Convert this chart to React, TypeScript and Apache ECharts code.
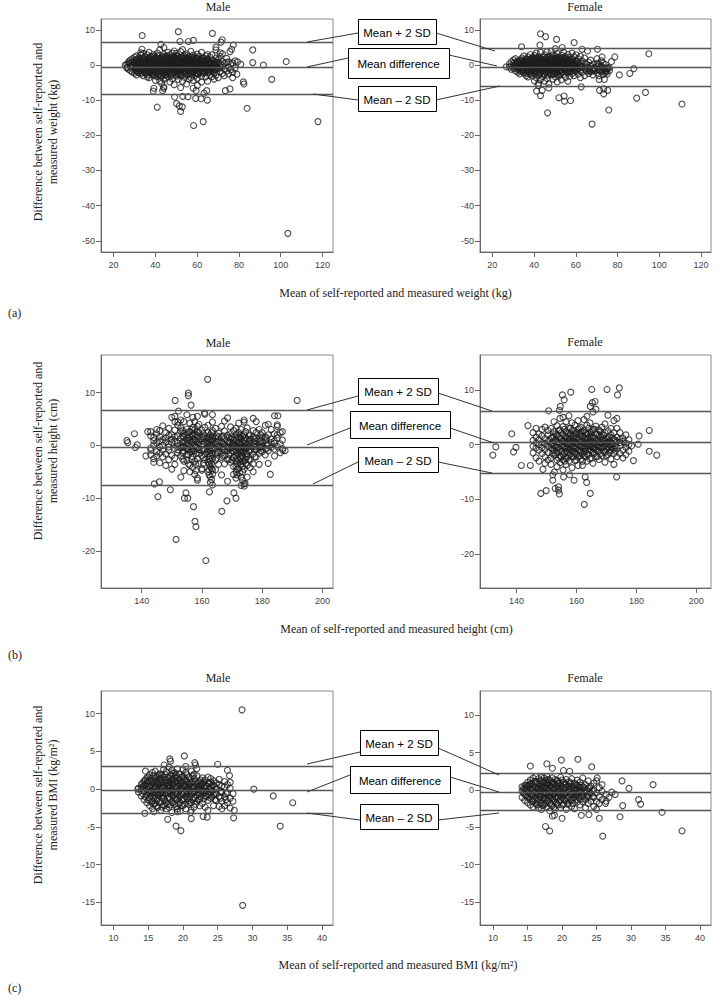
import { useEffect, useRef } from "react";
import * as echarts from "echarts";

type Col = [number, number[]];
type Pt = [number, number];

// ---------- (a) weight ----------
const weightXTicks = [20, 40, 60, 80, 100, 120];
const weightYTicks = [10, 0, -10, -20, -30, -40, -50];
const weightMaleLimits = [6.6, -0.7, -8.3];
const weightFemaleLimits = [4.8, -0.6, -6.0];

const weightMaleCols: Col[] = [
  [26.3, [0.2, -0.8]], [27.2, [0.5, -1.2, 1.0]], [28.1, [-0.3, 1.4, -1.6, 0.6]],
  [29.0, [0.9, -0.5, -2.0, 1.8, 0.1]], [30.1, [-1.1, 0.4, 1.2, -2.3, 2.2]],
  [31.0, [0.0, -1.7, 1.6, -0.6, 2.6, -2.8]], [32.1, [0.7, -1.0, 2.0, -2.1, 1.1, -0.3]],
  [33.0, [-0.8, 1.4, -2.5, 0.3, 2.8, -1.5]], [34.1, [1.9, -0.2, -3.0, 0.9, -1.3, 3.3]],
  [35.0, [-0.6, 1.0, -2.2, 2.4, 0.2, -1.6]], [36.1, [0.5, -1.2, 1.7, -3.4, 2.9, -0.1]],
  [37.0, [-2.0, 0.8, 1.9, -0.7, -3.6, 3.6]], [38.1, [0.3, -1.4, 2.3, -2.6, 1.1, -0.4]],
  [39.0, [-0.9, 1.5, -2.9, 0.6, 3.0, -1.8]], [40.1, [2.1, -0.3, -4.4, 0.9, -1.5, 1.4, -2.6]],
  [41.0, [-0.6, 2.6, -3.3, 0.4, 1.2, -1.9, 3.4]], [42.1, [0.1, -2.4, 1.8, -0.9, 4.3, -4.6, 0.7]],
  [43.0, [-1.3, 2.2, -3.1, 0.5, 1.3, -0.4, -5.2]], [44.1, [1.0, -2.0, 3.0, -0.7, -4.0, 0.3, 5.0, -6.2]],
  [45.0, [-1.0, 0.8, 2.5, -2.8, 1.6, -0.2, -3.7]], [46.1, [0.4, -1.6, 3.6, -3.3, 1.1, -0.6, 2.0]],
  [47.0, [-2.2, 0.9, 1.8, -0.4, -4.8, 2.9, 0.1]], [48.1, [1.3, -1.1, -2.7, 0.6, 3.4, -0.3, -3.9]],
  [49.0, [-0.8, 2.2, 0.0, -2.0, 1.5, -5.6, 4.0]], [50.1, [0.5, -1.4, 2.7, -3.2, 1.0, -0.4, 3.3]],
  [51.0, [-2.5, 0.8, 1.9, -0.9, -4.1, 2.4, 0.2]], [52.1, [1.2, -1.7, -3.0, 0.3, 3.8, -0.5, -6.4]],
  [53.0, [-1.1, 2.0, 0.6, -2.4, 1.4, -4.6, 4.4]], [54.1, [0.1, -1.9, 2.9, -3.5, 1.0, -0.7, 2.1]],
  [55.0, [-2.9, 0.7, 1.6, -1.2, -5.4, 3.2, 0.0]], [56.1, [1.5, -0.6, -2.6, 0.4, 2.4, -1.5, -4.0]],
  [57.0, [-0.3, 2.1, -3.6, 0.9, 1.3, -1.0, 3.9]], [58.1, [0.6, -2.1, 2.8, -0.5, -4.4, 1.7, -6.6]],
  [59.0, [-1.5, 1.0, -3.0, 0.2, 2.3, -0.8]], [60.1, [0.9, -2.5, 1.9, -0.3, -3.8, 3.1, -5.8]],
  [61.0, [-1.2, 0.5, 2.5, -2.0, 1.2, -0.6]], [62.1, [0.2, -3.2, 1.6, -1.0, 3.6, -4.8]],
  [63.0, [-0.5, 1.1, -2.4, 2.0, 0.4, -1.6]], [64.1, [1.4, -1.2, -3.4, 0.7, 2.6, -0.2]],
  [65.0, [-2.0, 0.3, 1.8, -0.9, -4.6, 3.0]], [66.1, [0.8, -1.5, 2.3, -2.8, 0.1]],
  [67.0, [-0.6, 1.4, -3.3, 0.5, 2.9]], [68.1, [0.2, -2.2, 1.1, -1.0, -4.0]],
  [69.0, [-1.4, 0.9, 2.0, -2.9, 0.0]], [70.1, [0.6, -0.9, -3.6, 1.6]],
  [71.0, [-1.8, 0.3, 2.5, -0.5]], [72.1, [1.0, -2.4, -0.2, 3.2]], [73.0, [-1.1, 0.5, -3.0]],
  [74.1, [0.8, -1.7, 1.9]], [75.0, [-0.6, -2.5, 0.9]], [76.1, [0.3, -1.3]],
  [77.0, [-2.1, 0.6, -3.6]], [78.1, [-0.9, 1.2]], [79.0, [-2.6]],
];
const weightMaleCore: Col[] = [
  [30.6, [-0.4, 0.9, -1.5]], [31.6, [0.3, -0.9, 1.3, -2.0]], [32.6, [-0.5, 0.6, -1.6, 1.7]],
  [33.6, [0.1, -1.1, 1.0, -2.2]], [34.6, [-0.7, 0.5, 1.6, -1.8]], [35.6, [0.2, -1.0, 1.2, -2.4, 2.1]],
  [36.6, [-0.4, 0.8, -1.6, 1.8, -2.8]], [37.6, [0.5, -0.8, 1.4, -2.1, 2.4]],
  [38.6, [-0.2, 1.0, -1.3, 0.3, -2.4]], [39.6, [0.6, -0.6, 1.8, -1.7, 2.6, -3.0]],
  [40.6, [-0.1, 1.1, -1.0, 0.4, -2.2, 2.0]], [41.6, [0.8, -0.4, 1.6, -1.5, -2.7, 0.0]],
  [42.6, [-0.6, 0.5, 2.0, -1.8, 1.0, -3.2]], [43.6, [0.2, -1.0, 1.4, -0.3, 2.4, -2.3]],
  [44.6, [-0.4, 0.9, -1.6, 0.3, 1.9, -2.9]], [45.6, [0.6, -0.7, 1.3, -2.0, 2.6, -0.2]],
  [46.6, [-0.9, 0.2, 1.6, -1.4, 0.8, -2.6]], [47.6, [0.4, -0.6, 2.1, -2.2, 1.0, -3.1]],
  [48.6, [-0.2, 1.2, -1.5, 0.5, 2.4, -2.4]], [49.6, [0.7, -1.0, 1.6, -0.3, -2.1, 2.0]],
  [50.6, [-0.6, 0.3, 1.3, -1.7, 2.5, -2.8]], [51.6, [0.1, -1.2, 1.7, -0.5, 0.9, -2.2]],
  [52.6, [-0.8, 0.6, 2.2, -1.4, 0.0, -2.9]], [53.6, [0.4, -0.4, 1.1, -1.9, 2.6, -0.9]],
  [54.6, [-0.3, 1.3, -1.1, 0.5, -2.4, 1.9]], [55.6, [0.7, -0.8, 1.9, -1.6, 0.1, -2.7]],
  [56.6, [-0.5, 0.9, -1.2, 1.6, -2.2, 0.2]], [57.6, [0.3, -1.4, 1.2, -0.3, 2.2, -2.6]],
  [58.6, [-0.9, 0.5, 1.5, -1.8, 0.0]], [59.6, [0.5, -0.5, 1.9, -1.3, -2.4]],
  [60.6, [-0.2, 1.1, -1.6, 0.4, -2.6]], [61.6, [0.8, -1.0, 1.5, -0.4, -2.1]],
  [62.6, [-0.6, 0.5, -1.5, 1.9, 0.0]], [63.6, [0.3, -0.8, 1.2, -2.0]], [64.6, [-0.4, 0.7, -1.5, 1.6]],
  [65.6, [0.4, -1.1, 0.9, -2.2]], [66.6, [-0.7, 0.3, -1.6]], [67.6, [0.5, -0.9, -2.0]],
  [68.6, [-0.3, 0.8, -1.4]], [69.6, [-0.8, 0.4]],
];
const weightMaleOut: Pt[] = [
  [33.7, 8.4], [51, 9.5], [67.3, 9.0], [72, 7.2], [58.2, 7.0], [55.8, 6.7], [51.8, 6.7],
  [42.7, 5.9], [33.6, 4.5], [33, 3.5], [77.3, 5.7], [76.5, 4.5], [75.7, 3.8], [86.6, 4.3],
  [71, 3.5], [69, 4.3], [71.4, 6.5], [69, 5.1], [86.6, 0.7], [91.7, 0], [102.6, 1.0], [79.3, 0.9],
  [80.9, 0.2], [95.7, -4.1], [82.1, -4.8], [82.4, -5.4], [75.7, -6.8], [73.5, -7.3],
  [64.6, -7.3], [63.3, -8.0], [64.9, -10.0], [61.9, -9.6], [59.3, -9.5], [55.6, -9.0],
  [53.1, -8.9], [49.2, -9.1], [50.2, -11.0], [52.9, -11.9], [52.1, -13.2], [51.5, -11.6],
  [40.9, -12.0], [83.9, -12.3], [58.3, -17.2], [62.9, -16.1], [117.8, -16.1],
  [103.4, -47.9], [39, -7.4], [39.3, -6.6], [43.5, -7.3], [44, -6.6], [59.5, -7.3],
  [25.6, 0], [26.5, -0.7],
];

const weightFemaleCols: Col[] = [
  [28.2, [0.3, -0.6]], [29.1, [-0.2, 0.9, -1.2]], [30.2, [0.5, -1.0, 1.5, -0.3]],
  [31.1, [-0.6, 0.2, 1.8, -1.7]], [32.2, [1.0, -0.4, -2.0, 0.6]],
  [33.1, [-1.1, 0.4, 1.4, -0.1, -2.5]], [34.2, [0.7, -1.5, 2.0, -0.5, 0.1]],
  [35.1, [-0.8, 1.2, -2.3, 0.4, 2.6]], [36.2, [0.0, -1.3, 1.7, -3.0, 0.8]],
  [37.1, [-0.5, 2.3, -1.9, 0.6, 1.1, -3.4]], [38.2, [0.9, -0.9, -2.6, 1.6, 0.2, 3.0]],
  [39.1, [-1.6, 0.3, 2.0, -0.4, -3.1, 1.1]], [40.2, [0.6, -1.1, 1.4, -2.4, 2.7, -0.2, -4.5]],
  [41.1, [-0.7, 1.9, -1.8, 0.2, 3.4, -3.6, 0.9]], [42.2, [0.4, -1.4, 2.4, -0.3, -2.9, 1.2, -5.2]],
  [43.1, [-1.0, 0.8, -2.2, 1.6, 3.6, -0.5, -4.1]], [44.2, [0.1, -1.6, 2.1, -3.3, 0.9, -0.7, 1.5]],
  [45.1, [-1.2, 1.2, -2.6, 0.5, 2.9, -0.2, -4.6]], [46.2, [0.7, -0.9, 1.8, -3.8, -1.6, 3.8, 0.0]],
  [47.1, [-0.4, 2.4, -2.1, 1.0, -0.9, -5.4, 0.4]], [48.2, [1.3, -1.4, -2.8, 0.2, 2.0, -0.6, 4.0]],
  [49.1, [-0.8, 0.7, 1.6, -2.4, -4.0, 0.1, 2.9]], [50.2, [0.4, -1.9, 2.5, -0.5, 1.2, -3.4, 4.6]],
  [51.1, [-1.1, 1.0, -2.6, 0.3, 3.3, -0.3, -4.8]], [52.2, [0.8, -1.5, 2.0, -0.8, -3.0, 1.4]],
  [53.1, [-0.3, 1.7, -2.1, 0.5, 2.8, -4.2]], [54.2, [1.1, -1.0, -2.7, 0.0, 3.6, -0.6]],
  [55.1, [-1.7, 0.6, 1.9, -3.5, -0.3, 2.4]], [56.2, [0.2, -1.2, 1.3, -2.3, 3.0, -4.6]],
  [57.1, [-0.7, 1.0, -1.8, 2.2, -3.2]], [58.2, [0.5, -2.4, 1.6, -0.5, 3.4]],
  [59.1, [-1.3, 0.2, 2.4, -3.0, -0.2]], [60.2, [0.9, -1.8, 1.2, -0.6, 2.9]],
  [61.1, [-1.0, 0.4, -2.6, 1.8]], [62.2, [0.0, -1.5, 2.5, -3.6]], [63.1, [-0.5, 1.1, -2.0]],
  [64.2, [0.6, -1.1, -3.0, 2.0]], [65.1, [-1.7, 0.3, -0.6]], [66.2, [-2.4, 0.8, -1.2]],
  [67.1, [-0.3, -1.9, 1.4]], [68.2, [-1.3, 0.2, -2.8]], [69.1, [-0.8, -1.6]],
  [70.2, [0.5, -2.2, -0.5, 1.8]], [71.1, [-1.4, 0.3, -3.0]], [72.2, [-0.2, -1.9, 1.2]],
  [73.1, [-1.0, 0.6, -2.7]], [74.2, [-1.6, 0.1]], [75.1, [-2.5, -0.9]],
];
const weightFemaleCore: Col[] = [
  [31.6, [0.1, -0.8, 1.0]], [32.6, [-0.4, 0.7, -1.3]], [33.6, [0.3, -0.9, 1.2, -1.8]],
  [34.6, [-0.6, 0.5, -1.5, 1.5]], [35.6, [0.2, -1.0, 1.0, -2.0]], [36.6, [-0.3, 0.8, -1.6, 1.6, -2.4]],
  [37.6, [0.4, -0.7, 1.3, -1.9, 0.0]], [38.6, [-0.5, 0.6, -1.4, 1.9, -2.3]],
  [39.6, [0.2, -0.9, 1.1, -1.8, 2.2]], [40.6, [-0.4, 0.9, -1.5, 0.3, 1.8, -2.5]],
  [41.6, [0.5, -0.8, 1.4, -2.0, 0.0]], [42.6, [-0.2, 1.0, -1.2, 2.0, -2.6, 0.4]],
  [43.6, [0.6, -0.6, 1.6, -1.8, -0.1]], [44.6, [-0.5, 0.4, 1.2, -1.4, 2.3, -2.4]],
  [45.6, [0.2, -1.0, 0.9, -0.3, 1.8, -2.1]], [46.6, [-0.7, 0.6, -1.8, 1.4, 0.0, -2.8]],
  [47.6, [0.3, -0.5, 1.6, -1.3, 2.2, -2.4]], [48.6, [-0.3, 0.9, -1.8, 0.4, 1.3, -0.9]],
  [49.6, [0.6, -0.6, 1.9, -1.5, -2.6, 0.0]], [50.6, [-0.5, 0.3, 1.4, -1.2, 2.0, -2.2]],
  [51.6, [0.4, -0.9, 1.0, -0.2, -1.9, 2.2]], [52.6, [-0.6, 0.6, 1.7, -1.5, 0.1, -2.5]],
  [53.6, [0.3, -0.4, 1.2, -1.9, 2.1]], [54.6, [-0.8, 0.5, -1.4, 1.5, 0.0]],
  [55.6, [0.2, -1.0, 0.9, -2.0, 1.7]], [56.6, [-0.4, 0.6, -1.5, 1.2]], [57.6, [0.5, -0.8, -1.9, 1.4]],
  [58.6, [-0.2, 0.9, -1.2]], [59.6, [0.3, -0.7, -1.7]], [60.6, [-0.4, 0.6, -1.3]],
  [61.6, [0.0, -0.9]], [62.6, [-0.5, 0.5]], [66.6, [-1.0, -1.6]], [68.6, [-0.8, -1.6]],
  [70.6, [-1.2, -0.3]], [72.6, [-1.4, -0.6]], [74.6, [-1.0, -1.8]], [76.1, [-0.8, -1.6]],
];
const weightFemaleOut: Pt[] = [
  [43.1, 8.9], [45.5, 8.1], [50.8, 7.3], [59.2, 6.4], [34, 5.2], [42.8, 5.7], [53.5, 5.0],
  [70.4, 4.5], [63, 4.5], [65.6, 4.0], [72.6, 2.3], [78.7, 2.3], [77.1, 1.0], [95, 3.2],
  [87.8, -1.0], [85.9, -2.4], [80.9, -2.8], [75.3, -0.8], [74.2, -2.2], [73.7, -4.1],
  [71.2, -4.1], [71.4, -7.2], [73.4, -6.8], [75.3, -7.2], [73.4, -8.2], [93.4, -7.8],
  [89.2, -9.4], [110.9, -11.1], [75.8, -12.8], [67.8, -16.8], [62.6, -6.2], [54.4, -8.8],
  [51.9, -9.3], [54.6, -10.3], [57.5, -10.1], [46.5, -13.6], [47.1, -6.5], [43.1, -8.7],
  [41.2, -7.4], [43.9, -7.2], [42, -5.8], [26.7, -0.5],
];

// ---------- (b) height ----------
const heightXTicks = [140, 160, 180, 200];
const heightYTicks = [10, 0, -10, -20];
const heightMaleLimits = [6.7, -0.35, -7.5];
const heightFemaleLimits = [6.16, 0.5, -5.2];

const heightMaleCols: Col[] = [
  [143.0, [1.8, -0.5, 2.6, -1.8, -0.9]], [144.0, [0.9, -2.5, 1.5, 0.1, -3.2]],
  [145.0, [2.2, -1.2, 0.4, -2.0, 3.0]], [146.0, [-0.3, 1.6, -3.3, 0.8, 2.8, -1.5]],
  [147.0, [1.1, -2.2, 0.0, 3.7, -0.9]], [148.0, [-1.6, 0.6, 2.4, -3.8, 1.4]],
  [149.0, [0.2, -0.9, 1.9, -2.7, 3.2, -0.3]], [150.0, [-1.9, 1.2, 0.5, -4.5, 2.0, 5.3]],
  [151.0, [0.8, -0.6, 2.9, -2.4, 1.6, -3.6, 4.5, 5.5]], [152.0, [-0.2, 1.8, -1.4, 3.8, 0.4, -0.8, 4.4]],
  [153.0, [0.1, -2.0, 1.3, 2.6, -0.5, -6.0, 3.3, 4.8]], [154.0, [-1.1, 0.7, 2.2, -3.0, 1.5, -0.2, 4.5, -4.8]],
  [155.0, [0.4, -1.7, 3.1, 1.0, -0.6, 2.0, -2.8, 5.8]], [156.0, [-0.3, 1.6, -3.8, 0.9, 2.6, -1.3, 4.2, -5.0]],
  [157.0, [0.6, -2.2, 1.2, 3.4, -0.9, -4.2, 2.0, 5.3]], [157.6, [1.0, -1.0, 3.0, -3.0, 0.0, -5.5, 4.5, 2.2]],
  [158.5, [-0.5, 1.8, -2.5, 0.5, 3.6, -6.6, 2.6, 5.5, -6.2]], [159.0, [0.3, -1.5, 2.4, -3.4, 1.1, 4.0, -0.8]],
  [160.0, [-1.0, 0.9, 2.9, -2.0, 0.2, -4.4, 1.6, -4.7]], [161.0, [0.6, -0.7, 1.8, -2.7, 3.4, 5.9, -1.6]],
  [162.0, [-1.2, 0.4, 2.4, -3.2, 1.3, -5.0, -0.2, 3.8]],
  [162.8, [0.0, -2.0, 1.0, -4.0, -6.0, 2.0, -3.0, -1.0, -7.0]],
  [163.5, [0.8, -1.5, 2.8, -2.5, -5.5, 1.6, -7.5, 4.4, 5.8, -4.7]],
  [164.5, [-0.6, 1.3, -2.8, 0.3, 3.2, -4.6, -1.6]], [165.5, [0.9, -1.1, 2.3, -3.6, -0.2, 1.6]],
  [166.5, [-0.4, 1.5, -2.3, -5.6, 0.6, 3.6, -1.5]], [167.5, [0.2, -1.9, 2.7, -0.8, -3.5, 1.2, 4.6]],
  [168.5, [-1.0, 0.7, -2.7, 1.9, -0.3, 5.2, -6.8]], [169.5, [0.5, -1.4, 2.2, -3.2, 1.2, -0.6, 3.5]],
  [170.5, [-0.1, -2.3, 1.0, -4.0, 2.8, -1.2, -5.5, 0.4]],
  [171.3, [0.0, -1.0, -2.0, -3.0, -4.0, 1.0, 2.0, -5.0, 3.2, -6.2]],
  [172.2, [0.6, -1.6, 2.4, -2.8, -0.4, 1.6, -4.4, 4.2]],
  [173.0, [-0.8, 0.3, -2.4, 1.4, -3.6, 3.0, -6.0, -1.5, -7.6]],
  [174.0, [0.9, -1.2, -3.0, 2.0, -0.3, 4.4, -4.5, -7.3, 4.8]],
  [175.0, [-0.5, 1.2, -2.2, 0.2, 3.3, -1.6, -3.8, -6.0]], [176.0, [0.4, -1.0, 2.0, -2.8, 1.2, -4.2]],
  [177.0, [-0.2, 1.6, -1.6, 0.6, -3.5, 2.8, -5.0, 5.1]], [178.0, [0.8, -0.8, 2.4, -2.2, 1.4, 4.5, -0.3]],
  [179.0, [-0.4, 1.2, -1.5, 0.2, 3.0, -3.6]], [180.0, [0.5, -1.2, 1.6, -0.2, 2.4]],
  [181.0, [-0.6, 0.9, -1.8, 1.6, 3.8]], [182.0, [0.1, 2.0, -1.0, -3.4, 4.0]],
  [183.0, [-0.4, 1.2, 0.5, 3.0]], [184.0, [0.8, -0.7, 2.2, 0.4]], [185.0, [-0.2, 1.4, 3.6, 2.0, 3.9]],
  [186.0, [0.3, -1.4, 2.4]], [186.7, [2.6, 1.0, -0.6]],
];
const heightMaleCore: Col[] = [
  [153.6, [0.6, -1.4, 1.8, -2.6, -0.4, 2.8]], [155.5, [-0.8, 0.2, 1.4, -1.8, 2.5, -3.5]],
  [156.6, [0.5, -0.6, 1.9, -2.6, -1.2, 3.0]], [158.0, [-0.3, 0.8, -1.6, 2.0, -3.6, -4.8]],
  [160.5, [0.3, -0.8, 1.4, -2.3, -3.4, 2.2]], [162.4, [-0.5, 0.6, -1.6, -2.6, -3.6, 1.6, -4.6, -5.6]],
  [163.2, [0.2, -0.6, -1.5, -3.4, -4.4, -6.5, 1.2, 2.4]], [165.0, [-0.2, 0.6, -1.4, 1.8, -2.4]],
  [167.0, [0.4, -0.8, 1.8, -2.0, -0.2]], [169.0, [-0.5, 0.5, -1.8, 1.5, -2.6]],
  [170.0, [0.2, -1.0, -2.8, 1.6, -0.4]], [171.7, [-0.5, -1.5, -2.5, -3.5, 0.5, 1.5, -4.5, -5.6]],
  [172.6, [0.2, -1.0, -2.1, -3.2, 1.2, -0.4, 2.0, -5.2]],
  [173.5, [-0.3, 0.6, -1.2, -2.0, -3.0, 1.8, -4.0, -5.0, -6.6]],
  [174.5, [0.4, -0.6, -1.6, -2.6, 1.4, -3.4, 2.6]], [175.6, [-0.2, 0.8, -1.2, -2.6, 1.8]],
  [177.5, [0.2, -0.8, 1.2, -2.2]], [179.5, [-0.3, 0.8, -1.0, 2.0]], [181.5, [0.2, -0.6, 1.4]],
];
const heightMaleOut: Pt[] = [
  [161.9, 12.5], [155.5, 9.9], [155.5, 9.4], [151.1, 8.5], [156.4, 7.6], [191.6, 8.5],
  [152.2, 6.5], [160.8, 6.1], [184.1, 5.6], [185.2, 5.6], [135.1, 0.9], [135.4, 0.5],
  [137.6, 2.2], [137.9, -0.4], [138.5, 0.1], [141.4, -2.0], [142.0, 2.6], [144.2, -7.3],
  [145.9, -6.9], [145.4, -9.7], [149.5, -8.4], [154.7, -9.0], [154.2, -10.0], [155.3, -10.0],
  [157.2, -11.6], [162.5, -8.8], [168.3, -10.5], [170.6, -9.0], [171.3, -10.0], [166.6, -12.5],
  [174.1, -7.7], [174.3, -7.2], [157.7, -14.4], [158.0, -15.4], [182.7, -5.5], [186.8, -0.9],
  [187.6, -1.0], [184.1, -2.0], [151.4, -17.8], [161.3, -21.8],
];

const heightFemaleCols: Col[] = [
  [145.5, [0.8, -1.5, 2.2, -0.3]], [146.5, [-0.6, 1.4, -2.4, 0.3, 3.0]],
  [147.5, [0.9, -1.0, 2.0, -3.0, 0.0]], [148.5, [-1.6, 0.4, 1.6, -0.5, 2.8]],
  [149.5, [0.2, -2.2, 1.1, -0.9, 3.2, -3.4]], [150.5, [-0.3, 1.8, -1.4, 0.6, 2.6, -2.8]],
  [151.5, [1.2, -0.6, -2.4, 0.1, 3.0, -3.6]], [152.5, [-1.0, 0.7, 2.4, -1.9, 1.5, -0.2, 4.2]],
  [153.5, [0.4, -1.4, 1.8, -2.8, 3.5, -0.5, -4.0]], [154.5, [-0.8, 1.1, 2.7, -2.1, 0.2, 4.8, -3.3]],
  [155.5, [0.6, -1.7, 1.9, -0.4, 3.3, -2.8, 5.0, -4.6]], [156.5, [-1.2, 0.3, 2.4, -2.4, 1.2, -0.6, 4.2, -3.6]],
  [157.5, [0.9, -0.9, 1.6, -3.0, 3.0, 0.0, -1.9, 5.3]], [158.5, [-0.4, 1.4, -2.2, 0.5, 2.6, -1.2, 4.0, -4.2]],
  [159.5, [0.3, -1.6, 2.0, -0.7, 3.6, -2.9, 1.1]], [160.5, [-1.0, 0.8, 2.8, -2.3, 0.0, 4.4, -3.8]],
  [161.5, [0.5, -1.3, 1.6, -0.4, 3.2, -2.6, 2.3]], [162.5, [-0.7, 1.1, -2.0, 0.3, 2.6, -1.2, 4.6]],
  [163.5, [0.9, -1.7, 1.9, -0.2, 3.6, -3.0, 5.2]], [164.5, [-0.3, 1.4, -2.6, 0.6, 2.3, -1.0, 4.0]],
  [165.5, [0.2, -1.5, 2.8, -0.6, 1.2, -3.4, 6.0]], [166.5, [-0.9, 0.7, 2.0, -2.2, 3.4, 0.1, 6.5]],
  [167.5, [0.4, -1.2, 1.6, -0.4, 2.7, -2.7]], [168.5, [-0.6, 1.0, -2.0, 0.3, 3.2, 1.8]],
  [169.5, [0.8, -1.4, 2.2, -0.2, 3.8, -3.2]], [170.5, [-0.4, 1.3, -1.8, 0.5, 2.5, 5.4]],
  [171.5, [0.2, -1.0, 1.8, -2.6, 3.0, -0.3]], [172.5, [-0.8, 0.9, -1.6, 2.2, 4.4, -3.6]],
  [173.5, [0.5, -0.6, 1.4, -2.2, 3.0, 4.8]], [174.5, [-0.2, 1.0, -1.6, 0.4, 2.2]],
  [175.5, [0.6, -1.0, -2.4, 1.2]], [176.5, [-0.5, 0.3, -1.8, 1.8]], [177.5, [0.0, -1.2, 0.9]],
];
const heightFemaleCore: Col[] = [
  [152.0, [0.3, -0.8, 1.4, -1.6]], [153.0, [-0.4, 0.8, -1.8, 2.0]], [154.0, [0.5, -0.6, 1.5, -2.4, 2.6]],
  [155.0, [-0.2, 1.0, -1.2, 2.2, -2.2]], [156.0, [0.6, -0.4, 1.6, -1.6, 2.8, -3.0]],
  [157.0, [-0.6, 0.4, 1.2, -1.4, 2.2, -2.4]], [158.0, [0.2, -0.8, 1.0, 2.0, -1.8, 3.0]],
  [159.0, [-0.4, 0.6, 1.6, -1.2, 2.6, -2.2]], [160.0, [0.4, -0.6, 1.3, -1.6, 2.2, -2.8]],
  [161.0, [-0.2, 1.0, -1.0, 2.0, -2.0, 3.0]], [162.0, [0.6, -0.4, 1.6, -1.6, 2.4, -3.0]],
  [163.0, [-0.5, 0.4, 1.2, -1.2, 2.2, -2.2]], [164.0, [0.2, -0.8, 1.0, 2.0, -1.8, 3.0]],
  [165.0, [-0.3, 0.7, 1.6, -1.2, 2.4, -2.4]], [166.0, [0.4, -0.6, 1.2, -1.6, 2.8]],
  [167.0, [-0.2, 0.8, -1.0, 2.0, -2.2]], [168.0, [0.5, -0.5, 1.4, -1.6, 2.4]],
  [169.0, [-0.4, 0.6, 1.8, -1.2]], [170.0, [0.2, -0.8, 1.0, -2.0]], [171.0, [-0.5, 0.6, 1.4, -1.4]],
  [172.0, [0.3, -0.6, 1.2]], [173.0, [-0.2, 0.8, -1.2]],
];
const heightFemaleOut: Pt[] = [
  [132.1, -1.9], [133.1, -0.4], [138.4, 2.0], [139.0, -1.3], [139.8, -0.5], [141.6, -3.8],
  [144.6, -3.8], [143.8, 3.5], [148.8, -4.5], [150.7, 6.2], [152.1, -6.5], [154.0, -7.7],
  [154.0, -8.3], [154.3, -9.0], [148.1, -8.9], [149.9, -8.4], [155.3, 9.1], [158.1, 9.6],
  [155.9, 8.2], [154.6, 7.0], [154.3, 6.3], [165.1, 10.1], [170.2, 10.1], [174.3, 10.4],
  [173.7, 9.1], [165.3, 7.7], [166.2, 7.9], [164.6, 7.0], [159.2, -6.5], [162.9, -5.9],
  [163.4, -6.9], [164.6, -8.9], [162.6, -10.9], [173.4, -5.9], [179.0, -2.9], [184.3, 2.6],
  [184.3, -1.2], [186.8, -1.9], [180.9, 1.6], [180.6, 0.1], [178.4, -0.2], [162.0, -3.8],
  [157.7, -5.5], [155.7, -5.9], [152.6, -5.0], [152.1, -5.5], [152.9, -8.0],
];

// ---------- (c) BMI ----------
const bmiXTicks = [10, 15, 20, 25, 30, 35, 40];
const bmiYTicks = [10, 5, 0, -5, -10, -15];
const bmiMaleLimits = [3.03, -0.14, -3.2];
const bmiFemaleLimits = [2.2, -0.27, -2.7];

const bmiMaleCols: Col[] = [
  [13.6, [0.1, -0.4]], [14.0, [0.6, -0.9, 0.2]], [14.4, [-0.3, 1.1, -1.4, 0.5]],
  [14.8, [0.0, -0.8, 1.5, -1.8, 0.8]], [15.2, [0.4, -1.2, 1.9, -0.4, -2.2, 1.1]],
  [15.6, [-0.6, 0.9, -1.6, 2.2, 0.2, -2.6]], [16.0, [0.5, -0.9, 1.4, -1.9, 0.0, 2.4]],
  [16.4, [-0.3, 1.1, -1.3, 0.6, -2.4, 1.8, -0.8]], [16.8, [0.3, -1.6, 2.0, -0.5, 0.9, -2.8, 1.4]],
  [17.2, [-0.9, 0.5, 1.6, -2.1, 0.1, 2.6, -1.3]], [17.6, [0.8, -0.4, -1.8, 1.2, 2.3, -0.1, -2.6]],
  [18.0, [-0.2, 1.4, -1.1, 0.4, -2.4, 2.9, 0.9]], [18.4, [0.6, -0.8, 1.9, -1.6, 0.0, -3.1, 1.2, 2.5]],
  [18.8, [-0.5, 1.0, -2.0, 0.3, 2.2, -1.2, 1.6]], [19.2, [0.2, -1.4, 1.5, -0.6, -2.6, 2.7, 0.8]],
  [19.6, [-0.9, 0.6, -1.8, 2.0, 0.0, 1.2, -2.9]], [20.0, [0.4, -0.5, 1.7, -1.4, 2.6, -2.2, 0.9]],
  [20.4, [-0.2, 1.2, -1.0, 0.5, -2.6, 2.2, 3.0]], [20.8, [0.7, -1.5, 1.6, -0.4, -2.0, 0.1]],
  [21.2, [-0.6, 0.9, 2.4, -1.8, 0.3, -2.8]], [21.6, [0.2, -1.1, 1.4, -0.3, 2.0, -2.4]],
  [22.0, [-0.8, 0.6, -1.6, 1.8, 0.0, 2.7]], [22.4, [0.4, -1.3, 1.0, -0.5, -2.2]],
  [22.8, [-0.3, 1.5, -1.9, 0.7, 0.0]], [23.2, [0.5, -0.9, 1.2, -2.4, 0.1]],
  [23.6, [-0.6, 0.8, -1.5, 1.6, -2.8]], [24.0, [0.2, -1.2, 0.9, -0.4, 1.4]],
  [24.4, [-0.8, 0.5, -2.2, 1.1]], [24.8, [0.0, -1.5, 0.8, -0.6]], [25.2, [-1.0, 0.6, -2.3, 1.3]],
  [25.6, [-0.4, -1.6, 0.4, -2.6]], [26.0, [0.3, -1.0, -2.2, 1.0]], [26.4, [-0.5, -1.8, 0.6]],
  [26.8, [-1.2, 0.1, -2.5, 0.9]], [27.2, [-1.6, -0.6]],
];
const bmiMaleCore: Col[] = [
  [14.2, [0.2, -0.6, 0.8]], [14.6, [-0.2, 0.5, -1.0, 1.2]], [15.0, [0.3, -0.5, 1.0, -1.4, 1.6]],
  [15.4, [-0.2, 0.6, -0.9, 1.4, -1.7]], [15.8, [0.3, -0.4, 1.1, -1.2, 1.8, -2.0]],
  [16.2, [-0.5, 0.2, 0.9, -1.5, 1.6, -2.2]], [16.6, [0.0, -0.7, 0.7, -1.8, 1.3, 2.0]],
  [17.0, [-0.4, 0.3, 1.0, -1.1, 1.9, -2.4]], [17.4, [0.2, -0.6, 1.2, -1.5, 2.0, -2.2]],
  [17.8, [-0.5, 0.4, -1.2, 1.6, -2.0, 0.9]], [18.2, [0.2, -0.4, 1.0, -1.3, 1.8, -2.1]],
  [18.6, [-0.2, 0.6, -0.9, 1.3, -1.8, 2.1]], [19.0, [0.3, -0.6, 1.1, -1.4, 1.9, -2.3]],
  [19.4, [-0.3, 0.4, -1.1, 1.2, -2.0, 2.0]], [19.8, [0.1, -0.6, 0.9, -1.4, 1.6, -2.2]],
  [20.2, [-0.4, 0.5, -1.3, 1.3, -2.0]], [20.6, [0.2, -0.6, 1.0, -1.2, 1.9]],
  [21.0, [-0.2, 0.6, -1.0, 1.4, -1.8]], [21.4, [0.2, -0.5, 1.0, -1.4, 1.8]],
  [21.8, [-0.3, 0.4, -1.2, 1.0, -2.0]], [22.2, [0.1, -0.6, 0.8, -1.4]], [22.6, [-0.2, 0.6, -1.0, 1.2]],
  [23.0, [0.2, -0.5, -1.3, 0.9]], [23.4, [-0.3, 0.4, -1.0]], [23.8, [0.0, -0.7, 0.8]],
  [24.2, [-0.2, -1.0, 0.5]], [24.6, [0.3, -0.6, -1.4]], [25.4, [-0.3, -1.2]], [26.2, [-0.6, -1.4]],
];
const bmiMaleOut: Pt[] = [
  [28.5, 10.5], [20.2, 4.4], [18.1, 4.0], [18.2, 3.7], [17.3, 3.2], [21.7, 3.5], [21.8, 3.2],
  [25.0, 3.3], [26.4, 2.5], [26.7, 1.8], [30.2, 0.0], [33.0, -0.9], [35.8, -1.8], [34.0, -4.9],
  [27.4, -2.8], [27.3, -3.8], [14.5, -3.2], [15.8, -3.0], [17.8, -4.0], [19.0, -4.9],
  [19.7, -5.5], [21.2, -3.9], [21.1, -3.1], [22.9, -3.6], [23.5, -3.7], [13.5, 0.0],
  [14.6, 2.4], [28.6, -15.4], [19.2, -3.0],
];

const bmiFemaleCols: Col[] = [
  [14.2, [-0.2, -1.0, 0.4]], [14.6, [0.6, -0.6, -1.4, 0.1]], [15.0, [-0.3, 1.0, -1.7, 0.5, -0.9]],
  [15.4, [0.2, -1.2, 1.3, -0.5, -2.0, 0.8]], [15.8, [-0.7, 0.5, 1.6, -1.5, 0.0, -2.3]],
  [16.2, [0.3, -1.0, 1.1, -0.4, -1.9, 1.8]], [16.6, [-0.5, 0.8, -1.3, 0.2, 1.5, -2.4, -0.1]],
  [17.0, [0.5, -0.8, 1.2, -1.7, 0.0, -2.6, 1.7]], [17.4, [-0.3, 1.0, -1.1, 0.4, -2.0, 1.6, -0.7]],
  [17.8, [0.2, -1.5, 0.9, -0.5, 1.8, -2.3, 0.6]], [18.2, [-0.9, 0.5, -1.8, 1.3, 0.0, -0.4, -2.8]],
  [18.6, [0.3, -1.2, 1.0, -0.6, 1.6, -2.1]], [19.0, [-0.5, 0.7, -1.6, 0.2, 1.4, -2.6, -0.9]],
  [19.4, [0.4, -1.0, 1.2, -0.3, -2.0, 0.9]], [19.8, [-0.7, 0.6, 1.7, -1.4, 0.0, -2.4]],
  [20.2, [0.2, -1.2, 1.0, -0.5, -1.9, 2.6]], [20.6, [-0.4, 0.8, -1.5, 0.3, 1.4, -2.6]],
  [21.0, [0.5, -0.9, 1.1, -1.8, 0.0]], [21.4, [-0.6, 0.4, -1.3, 1.5, -2.2]],
  [21.8, [0.1, -1.0, 0.9, -0.4, -2.5]], [22.2, [-0.7, 0.6, -1.6, 1.3, 0.0]],
  [22.6, [0.3, -1.2, -0.3, 1.0, -2.0]], [23.0, [-0.8, 0.4, -1.6, 1.6]],
  [23.4, [-0.2, -1.3, 0.7, -2.4]], [23.8, [0.2, -0.9, 1.2, -1.8]], [24.2, [-0.5, -1.5, 0.5]],
  [24.6, [0.9, -1.0, -2.2, 0.0]], [25.0, [-0.4, 1.2, -1.6, -2.6]], [25.4, [0.3, -0.9, -1.8]],
  [25.8, [-1.3, -0.2, 0.7]], [26.4, [-0.6, -1.5]],
];
const bmiFemaleCore: Col[] = [
  [14.4, [-0.4, 0.2]], [14.8, [0.0, -0.8, 0.6]], [15.2, [-0.3, 0.5, -1.1]], [15.6, [0.1, -0.8, 0.8, -1.5]],
  [16.0, [-0.4, 0.4, -1.2, 1.1]], [16.4, [0.2, -0.6, 0.9, -1.5, -2.0]], [16.8, [-0.2, 0.5, -1.0, 1.2, -1.8]],
  [17.2, [0.2, -0.5, 0.9, -1.3, -2.1]], [17.6, [-0.4, 0.4, -1.1, 1.3, -1.8]],
  [18.0, [0.1, -0.7, 0.8, -1.4, 1.4]], [18.4, [-0.3, 0.4, -1.0, 1.0, -1.9]],
  [18.8, [0.1, -0.6, 0.8, -1.4, -2.3]], [19.2, [-0.3, 0.5, -1.1, 1.2, -1.8]],
  [19.6, [0.1, -0.6, 0.9, -1.5]], [20.0, [-0.4, 0.4, -1.0, 1.3, -2.0]], [20.4, [0.1, -0.7, 0.8, -1.4]],
  [20.8, [-0.3, 0.5, -1.1, -1.9]], [21.2, [0.1, -0.6, 0.9, -1.4]], [21.6, [-0.3, 0.5, -1.0, -1.8]],
  [22.0, [0.1, -0.6, 0.7, -1.3]], [22.4, [-0.3, 0.4, -1.0]], [22.8, [0.0, -0.8, 0.6]],
  [23.2, [-0.4, 0.3, -1.1]], [23.6, [-0.1, -0.8]], [24.0, [-0.4, 0.3]], [24.4, [-0.9, -0.1]],
];
const bmiFemaleOut: Pt[] = [
  [15.4, 3.2], [17.8, 3.5], [18.6, 2.9], [19.9, 4.0], [22.3, 4.1], [24.3, 3.1], [21.1, 2.5],
  [28.7, 1.2], [29.7, 0.2], [33.2, 0.7], [31.1, -1.3], [31.4, -1.9], [28.8, -2.1], [28.4, -3.6],
  [34.5, -3.0], [37.4, -5.5], [25.9, -6.2], [25.4, -3.8], [23.9, -3.3], [22.8, -3.4],
  [20.0, -3.8], [18.9, -3.4], [18.6, -3.5], [17.6, -4.9], [18.2, -5.5], [27.2, -0.3],
  [26.8, -1.0], [26.3, -1.8], [25.1, 1.6], [27.7, -0.6],
];

const flat = (a: Col[], b: Col[], extra: Pt[]): Pt[] => [
  ...a.flatMap(([x, ys]) => ys.map((y) => [x, y] as Pt)),
  ...b.flatMap(([x, ys]) => ys.map((y) => [x, y] as Pt)),
  ...extra,
];

const panels = [
  { data: flat(weightMaleCols, weightMaleCore, weightMaleOut), limits: weightMaleLimits, x: [14, 125], y: [-53.2, 13.1], xt: weightXTicks, yt: weightYTicks, left: 101, top: 19, w: 232, h: 233 },
  { data: flat(weightFemaleCols, weightFemaleCore, weightFemaleOut), limits: weightFemaleLimits, x: [14.1, 124.8], y: [-53.2, 13.1], xt: weightXTicks, yt: weightYTicks, left: 480, top: 19, w: 231, h: 233 },
  { data: flat(heightMaleCols, heightMaleCore, heightMaleOut), limits: heightMaleLimits, x: [126.5, 203.5], y: [-27, 17.1], xt: heightXTicks, yt: heightYTicks, left: 101, top: 355, w: 232, h: 233 },
  { data: flat(heightFemaleCols, heightFemaleCore, heightFemaleOut), limits: heightFemaleLimits, x: [127.8, 204.9], y: [-26.2, 16.4], xt: heightXTicks, yt: heightYTicks, left: 480, top: 355, w: 231, h: 233 },
  { data: flat(bmiMaleCols, bmiMaleCore, bmiMaleOut), limits: bmiMaleLimits, x: [8.2, 41.6], y: [-18, 13], xt: bmiXTicks, yt: bmiYTicks, left: 101, top: 691, w: 232, h: 234 },
  { data: flat(bmiFemaleCols, bmiFemaleCore, bmiFemaleOut), limits: bmiFemaleLimits, x: [8.1, 41.6], y: [-18.1, 13.25], xt: bmiXTicks, yt: bmiYTicks, left: 480, top: 691, w: 231, h: 234 },
];

const notes = [
  { text: "Mean + 2 SD", box: [358, 19, 78, 25], l: [307, 42, 358, 33], r: [436, 33, 495, 51] },
  { text: "Mean difference", box: [348, 48, 101, 30], l: [307, 67, 348, 58], r: [449, 55, 497, 66] },
  { text: "Mean – 2 SD", box: [358, 86, 78, 25], l: [313, 94, 358, 100], r: [436, 100, 500, 86] },
  { text: "Mean + 2 SD", box: [358, 378, 80, 26], l: [307, 410, 358, 396], r: [438, 393, 492, 411] },
  { text: "Mean difference", box: [350, 411, 100, 27], l: [307, 445, 350, 428], r: [450, 428, 494, 443] },
  { text: "Mean – 2 SD", box: [358, 447, 80, 25], l: [313, 484, 358, 462], r: [438, 462, 492, 473] },
  { text: "Mean + 2 SD", box: [360, 730, 78, 25], l: [307, 764, 360, 752], r: [438, 748, 499, 775] },
  { text: "Mean difference", box: [350, 766, 100, 27], l: [307, 792, 350, 775], r: [450, 777, 499, 792] },
  { text: "Mean – 2 SD", box: [360, 804, 78, 25], l: [307, 813, 360, 820], r: [438, 820, 499, 813] },
];

const serif = "'Liberation Serif', 'Times New Roman', serif";
const sans = "'Liberation Sans', Arial, sans-serif";

const texts = [
  { t: "Male", x: 218, y: 7 }, { t: "Female", x: 585, y: 7 },
  { t: "Male", x: 218, y: 342.5 }, { t: "Female", x: 585, y: 341.5 },
  { t: "Male", x: 218, y: 678 }, { t: "Female", x: 585, y: 678 },
  { t: "Mean of self-reported and measured weight (kg)", x: 395.5, y: 293 },
  { t: "Mean of self-reported and measured height (cm)", x: 396.5, y: 629 },
  { t: "Mean of self-reported and measured BMI (kg/m²)", x: 398, y: 965 },
];
const yTitles = [
  { t: "Difference between self-reported and\nmeasured weight (kg)", y: 132 },
  { t: "Difference between self-reported and\nmeasured height (cm)", y: 451 },
  { t: "Difference between self-reported and\nmeasured BMI (kg/m²)", y: 795 },
];
const letters = [
  { t: "(a)", y: 313 }, { t: "(b)", y: 655 }, { t: "(c)", y: 988 },
];

export default function App() {
  const ref = useRef<HTMLDivElement>(null);
  useEffect(() => {
    if (!ref.current) return;
    const chart = echarts.init(ref.current, undefined, { renderer: "svg" });
    const axisBase = (ticks: number[], margin: number) => ({
      axisLine: { show: true, onZero: false, lineStyle: { color: "#666", width: 1 } },
      axisTick: { show: true, length: 5, customValues: ticks, lineStyle: { color: "#666" } },
      axisLabel: { customValues: ticks, fontSize: 9, color: "#444", fontFamily: sans, margin },
      splitLine: { show: false },
    });
    const graphic: any[] = [];
    notes.forEach((n) => {
      graphic.push({ type: "line", z: 100, shape: { x1: n.l[0], y1: n.l[1], x2: n.l[2], y2: n.l[3] }, style: { stroke: "#333", lineWidth: 1 } });
      graphic.push({ type: "line", z: 100, shape: { x1: n.r[0], y1: n.r[1], x2: n.r[2], y2: n.r[3] }, style: { stroke: "#333", lineWidth: 1 } });
      graphic.push({ type: "rect", z: 101, shape: { x: n.box[0] + 0.5, y: n.box[1] + 0.5, width: n.box[2], height: n.box[3] }, style: { fill: "#fff", stroke: "#000", lineWidth: 1 } });
      graphic.push({ type: "text", z: 102, x: n.box[0] + n.box[2] / 2, y: n.box[1] + n.box[3] / 2 + 1, style: { text: n.text, fill: "#000", fontSize: 11.5, fontFamily: sans, align: "center", verticalAlign: "middle" } });
    });
    texts.forEach((t) => {
      graphic.push({ type: "text", z: 100, x: t.x, y: t.y, style: { text: t.t, fill: "#222", fontSize: 12, fontFamily: serif, align: "center", verticalAlign: "middle" } });
    });
    yTitles.forEach((t) => {
      graphic.push({ type: "text", z: 100, x: 45.5, y: t.y, rotation: Math.PI / 2, style: { text: t.t, fill: "#222", fontSize: 12, lineHeight: 15.5, fontFamily: serif, align: "center", verticalAlign: "middle" } });
    });
    letters.forEach((t) => {
      graphic.push({ type: "text", z: 100, x: 8, y: t.y, style: { text: t.t, fill: "#222", fontSize: 12, fontFamily: serif, align: "left", verticalAlign: "middle" } });
    });

    chart.setOption({
      animation: false,
      backgroundColor: "#fff",
      grid: panels.map((p) => ({ left: p.left, top: p.top, width: p.w, height: p.h, show: true, borderColor: "#8a8a8a", borderWidth: 1, backgroundColor: "transparent" })),
      xAxis: panels.map((p, i) => ({ type: "value", gridIndex: i, min: p.x[0], max: p.x[1], ...axisBase(p.xt, 8) })),
      yAxis: panels.map((p, i) => ({ type: "value", gridIndex: i, min: p.y[0], max: p.y[1], ...axisBase(p.yt, 6) })),
      series: panels.map((p, i) => ({
        type: "scatter",
        xAxisIndex: i,
        yAxisIndex: i,
        data: p.data,
        symbol: "circle",
        symbolSize: 6,
        itemStyle: { color: "rgba(0,0,0,0)", borderColor: "#1e1e1e", borderWidth: 1.1 },
        silent: true,
        markLine: {
          silent: true,
          symbol: "none",
          label: { show: false },
          lineStyle: { color: "#555", width: 1.3, type: "solid" },
          data: p.limits.map((v) => ({ yAxis: v })),
        },
      })),
      graphic,
    });
    return () => chart.dispose();
  }, []);
  return <div ref={ref} style={{ position: "absolute", left: 0, top: 0, width: 724, height: 1000 }} />;
}
